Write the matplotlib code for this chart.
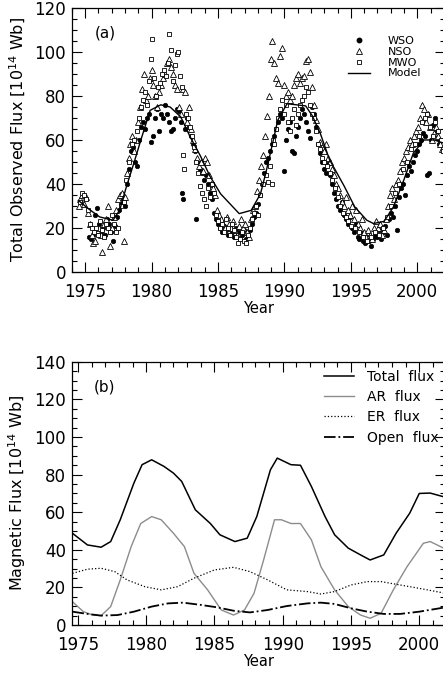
import matplotlib
matplotlib.use("Agg")
import matplotlib.pyplot as plt
from matplotlib.lines import Line2D
from matplotlib.ticker import MultipleLocator

plt.rcParams["font.family"] = ["DejaVu Sans"]

# ---- panel (a): observed total flux, 10^14 Wb ----
NSO_YEAR = [1974.55, 1974.65, 1974.75, 1974.9, 1975.05, 1975.2, 1975.35, 1975.5, 1975.6, 1975.75,
            1975.9, 1976.05, 1976.2, 1976.3, 1976.45, 1976.6, 1976.75, 1976.9, 1977.0, 1977.15,
            1977.3, 1977.45, 1977.6, 1977.75, 1977.9, 1978.0, 1978.15, 1978.3, 1978.4, 1978.55,
            1978.7, 1978.85, 1979.0, 1979.15, 1979.3, 1979.4, 1979.55, 1979.7, 1979.85, 1980.0,
            1980.15, 1980.3, 1980.45, 1980.6, 1980.75, 1980.9, 1981.05, 1981.2, 1981.35, 1981.5,
            1981.65, 1981.8, 1981.95, 1982.1, 1982.25, 1982.4, 1982.55, 1982.7, 1982.85, 1983.0,
            1983.15, 1983.3, 1983.45, 1983.6, 1983.75, 1983.9, 1984.05, 1984.2, 1984.35, 1984.5,
            1984.65, 1984.8, 1984.95, 1985.1, 1985.25, 1985.4, 1985.55, 1985.7, 1985.85, 1986.0,
            1986.15, 1986.3, 1986.45, 1986.6, 1986.75, 1986.9, 1987.05, 1987.2, 1987.35, 1987.5,
            1987.65, 1987.8, 1987.95, 1988.1, 1988.25, 1988.4, 1988.55, 1988.7, 1988.85, 1989.0,
            1989.1, 1989.25, 1989.4, 1989.55, 1989.7, 1989.85, 1990.0, 1990.15, 1990.3, 1990.45,
            1990.6, 1990.75, 1990.9, 1991.05, 1991.2, 1991.35, 1991.5, 1991.65, 1991.8, 1991.95,
            1992.1, 1992.25, 1992.4, 1992.55, 1992.7, 1992.85, 1993.0, 1993.15, 1993.3, 1993.45,
            1993.6, 1993.75, 1993.9, 1994.05, 1994.2, 1994.35, 1994.5, 1994.65, 1994.8, 1994.95,
            1995.1, 1995.25, 1995.4, 1995.55, 1995.7, 1995.85, 1996.0, 1996.15, 1996.3, 1996.45,
            1996.6, 1996.75, 1996.9, 1997.05, 1997.2, 1997.35, 1997.5, 1997.65, 1997.8, 1997.95,
            1998.1, 1998.25, 1998.4, 1998.55, 1998.7, 1998.85, 1999.0, 1999.15, 1999.3, 1999.45,
            1999.6, 1999.75, 1999.9, 2000.05, 2000.2, 2000.35, 2000.5, 2000.65, 2000.8, 2000.95,
            2001.1, 2001.25, 2001.4, 2001.55, 2001.7, 2001.85]
NSO_FLUX = [30, 33, 35, 31, 34, 27, 22, 17, 13, 14,
            19, 20, 17, 9, 22, 24, 30, 12, 20, 25,
            28, 33, 35, 36, 14, 34, 45, 52, 58, 62,
            55, 60, 68, 75, 83, 90, 78, 80, 88, 92,
            85, 80, 75, 82, 85, 88, 90, 95, 97, 93,
            90, 85, 83, 75, 72, 83, 82, 68, 75, 65,
            60, 56, 52, 48, 50, 46, 52, 50, 44, 40,
            38, 35, 28, 26, 24, 22, 20, 25, 22, 20,
            23, 19, 17, 21, 24, 20, 22, 18, 16, 24,
            28, 30, 37, 42, 48, 53, 62, 71, 80, 97,
            105, 95, 88, 86, 98, 102, 85, 80, 82, 78,
            80, 85, 88, 90, 86, 88, 89, 96, 97, 91,
            84, 76, 69, 65, 59, 57, 55, 58, 52, 50,
            47, 44, 40, 38, 35, 32, 30, 34, 28, 26,
            30, 24, 28, 22, 20, 24, 18, 16, 19, 17,
            15, 20, 23, 20, 22, 17, 19, 24, 30, 35,
            38, 33, 40, 42, 46, 50, 52, 55, 57, 60,
            58, 62, 64, 66, 70, 76, 74, 68, 72, 66,
            60, 63, 66, 62, 58, 56]

WSO_YEAR = [1975.3, 1975.45, 1975.6, 1975.75, 1975.9, 1976.05, 1976.2, 1976.35, 1976.5, 1976.65,
            1976.8, 1976.95, 1977.1, 1977.25, 1977.4, 1977.55, 1977.7, 1977.85, 1978.0, 1978.15,
            1978.3, 1978.45, 1978.6, 1978.75, 1978.9, 1979.05, 1979.2, 1979.35, 1979.5, 1979.65,
            1979.8, 1979.95, 1980.1, 1980.25, 1980.4, 1980.55, 1980.7, 1980.85, 1981.0, 1981.15,
            1981.3, 1981.45, 1981.6, 1981.75, 1981.9, 1982.05, 1982.2, 1982.3, 1982.35, 1982.5,
            1982.65, 1982.8, 1982.95, 1983.1, 1983.25, 1983.35, 1983.5, 1983.65, 1983.8, 1983.95,
            1984.1, 1984.25, 1984.4, 1984.55, 1984.7, 1984.85, 1985.0, 1985.15, 1985.3, 1985.45,
            1985.6, 1985.75, 1985.9, 1986.05, 1986.2, 1986.35, 1986.5, 1986.65, 1986.8, 1986.95,
            1987.1, 1987.25, 1987.4, 1987.55, 1987.7, 1987.85, 1988.0, 1988.15, 1988.3, 1988.45,
            1988.6, 1988.75, 1988.9, 1989.05, 1989.2, 1989.35, 1989.5, 1989.65, 1989.8, 1989.95,
            1990.1, 1990.25, 1990.4, 1990.55, 1990.7, 1990.85, 1991.0, 1991.15, 1991.3, 1991.45,
            1991.6, 1991.75, 1991.9, 1992.05, 1992.2, 1992.35, 1992.5, 1992.65, 1992.8, 1992.95,
            1993.1, 1993.25, 1993.4, 1993.55, 1993.7, 1993.85, 1994.0, 1994.15, 1994.3, 1994.45,
            1994.6, 1994.75, 1994.9, 1995.05, 1995.2, 1995.35, 1995.5, 1995.65, 1995.8, 1995.95,
            1996.1, 1996.25, 1996.4, 1996.55, 1996.7, 1996.85, 1997.0, 1997.15, 1997.3, 1997.45,
            1997.6, 1997.75, 1997.9, 1998.05, 1998.2, 1998.35, 1998.5, 1998.65, 1998.8, 1998.95,
            1999.1, 1999.25, 1999.4, 1999.55, 1999.7, 1999.85, 2000.0, 2000.15, 2000.3, 2000.45,
            2000.6, 2000.75, 2000.85, 2001.0, 2001.15, 2001.3, 2001.45, 2001.6, 2001.75, 2001.9]
WSO_FLUX = [16, 15, 17, 26, 29, 22, 18, 20, 17, 24,
            22, 18, 14, 21, 25, 28, 31, 33, 30, 40,
            47, 55, 57, 50, 48, 60, 66, 68, 65, 70,
            72, 59, 62, 70, 74, 64, 72, 70, 76, 72,
            68, 64, 65, 70, 74, 73, 68, 36, 33, 65,
            70, 66, 62, 58, 55, 24, 50, 47, 45, 42,
            44, 40, 36, 33, 27, 24, 22, 20, 18, 21,
            19, 17, 20, 18, 16, 20, 18, 15, 17, 19,
            15, 17, 19, 22, 25, 27, 31, 35, 40, 45,
            50, 52, 55, 58, 62, 65, 68, 72, 70, 46,
            60, 65, 68, 55, 54, 62, 66, 70, 74, 72,
            68, 64, 61, 75, 72, 66, 58, 54, 50, 47,
            45, 49, 44, 40, 36, 33, 30, 28, 32, 26,
            24, 22, 25, 20, 18, 22, 16, 15, 18, 14,
            13, 16, 14, 12, 15, 17, 16, 19, 15, 18,
            21, 17, 24, 27, 25, 30, 19, 34, 38, 40,
            35, 44, 48, 46, 50, 53, 55, 58, 60, 63,
            62, 44, 45, 60, 67, 70, 64, 58, 60, 56]

MWO_YEAR = [1974.6, 1974.75, 1974.9, 1975.05, 1975.2, 1975.35, 1975.5, 1975.65, 1975.8, 1975.95,
            1976.1, 1976.25, 1976.4, 1976.55, 1976.7, 1976.85, 1977.0, 1977.15, 1977.3, 1977.5,
            1977.7, 1977.9, 1978.1, 1978.3, 1978.5, 1978.7, 1978.9, 1979.05, 1979.2, 1979.35,
            1979.5, 1979.65, 1979.8, 1979.95, 1980.0, 1980.2, 1980.35, 1980.5, 1980.65, 1980.8,
            1980.95, 1981.1, 1981.25, 1981.35, 1981.45, 1981.6, 1981.75, 1981.9, 1982.0, 1982.15,
            1982.3, 1982.4, 1982.45, 1982.6, 1982.75, 1982.9, 1983.05, 1983.2, 1983.35, 1983.5,
            1983.65, 1983.8, 1983.95, 1984.1, 1984.25, 1984.4, 1984.55, 1984.7, 1984.85, 1985.0,
            1985.15, 1985.3, 1985.45, 1985.6, 1985.75, 1985.9, 1986.05, 1986.2, 1986.35, 1986.5,
            1986.65, 1986.8, 1986.95, 1987.1, 1987.25, 1987.4, 1987.55, 1987.7, 1987.85, 1988.0,
            1988.2, 1988.4, 1988.6, 1988.8, 1988.95, 1989.05, 1989.15, 1989.25, 1989.4, 1989.55,
            1989.7, 1989.85, 1990.0, 1990.15, 1990.3, 1990.45, 1990.6, 1990.75, 1990.9, 1991.05,
            1991.2, 1991.35, 1991.5, 1991.65, 1991.8, 1991.95, 1992.1, 1992.25, 1992.4, 1992.55,
            1992.7, 1992.85, 1993.0, 1993.2, 1993.4, 1993.6, 1993.8, 1994.0, 1994.2, 1994.4,
            1994.6, 1994.8, 1995.0, 1995.3, 1995.6, 1995.9, 1996.2, 1996.5, 1996.8, 1997.1,
            1997.4, 1997.7, 1998.0, 1998.3, 1998.6, 1998.9, 1999.2, 1999.5, 1999.8, 2000.1,
            2000.35, 2000.55, 2000.75, 2000.95, 2001.15, 2001.35, 2001.55, 2001.75, 2001.9]
MWO_FLUX = [32, 36, 35, 33, 28, 22, 20, 18, 20, 17,
            23, 19, 16, 22, 20, 18, 26, 22, 18, 20,
            30, 32, 42, 50, 58, 60, 64, 70, 75, 78,
            82, 76, 87, 97, 106, 88, 80, 84, 86, 90,
            92, 89, 95, 108, 101, 87, 94, 99, 100, 89,
            84, 53, 47, 72, 70, 66, 62, 57, 50, 45,
            39, 36, 33, 30, 38, 34, 40, 36, 26, 23,
            20, 22, 18, 24, 20, 17, 22, 19, 16, 13,
            15, 18, 14, 13, 17, 20, 24, 27, 30, 26,
            35, 40, 44, 41, 48, 40, 60, 58, 65, 70,
            74, 78, 72, 76, 68, 64, 70, 74, 67, 72,
            76, 78, 80, 84, 82, 76, 72, 70, 64, 58,
            56, 52, 50, 48, 45, 42, 38, 34, 30, 27,
            25, 23, 21, 20, 18, 16, 14, 16, 18, 17,
            20, 25, 30, 36, 40, 47, 50, 56, 58, 62,
            68, 70, 72, 66, 62, 68, 64, 60, 55]

MODEL_YEAR = [1974.5, 1975.3, 1976.1, 1977.1, 1977.6, 1978.1, 1978.7, 1979.2, 1979.9, 1980.7,
              1981.4, 1982.2, 1982.9, 1983.7, 1984.4, 1985.2, 1985.9, 1986.6, 1987.5, 1988.2,
              1988.6, 1989.0, 1989.5, 1990.2, 1990.9, 1991.6, 1992.1, 1992.7, 1993.4, 1994.5,
              1995.3, 1996.2, 1996.7, 1997.5, 1998.2, 1999.0, 1999.7, 2000.5, 2001.3, 2002.0]
MODEL_FLUX = [32.5, 28.5, 25.0, 23.5, 28.0, 38.5, 50.0, 60.0, 73.5, 76.0,
              75.0, 70.5, 61.5, 52.5, 43.5, 35.5, 31.0, 26.5, 28.0, 35.5,
              45.0, 55.5, 69.0, 76.5, 76.0, 75.5, 71.0, 63.0, 51.0, 39.0,
              29.5, 23.5, 22.0, 23.0, 29.5, 42.0, 54.0, 60.0, 60.0, 58.5]

# ---- panel (b): model flux components, 10^14 Wb ----
B_YEAR_TOTAL = [1974.6, 1975.7, 1976.7, 1977.4, 1978.1, 1979.1, 1979.7, 1980.4, 1981.3, 1982.0,
                1982.6, 1983.6, 1984.7, 1985.4, 1986.5, 1987.4, 1988.1, 1989.1, 1989.6, 1990.6,
                1991.3, 1992.1, 1993.1, 1993.8, 1994.8, 1995.7, 1996.4, 1997.4, 1998.3, 1999.3,
                2000.0, 2000.8, 2001.9]
TOTAL_FLUX = [48.8, 42.6, 41.4, 44.4, 56.0, 75.5, 85.3, 87.9, 84.4, 80.8,
              76.4, 61.3, 54.0, 48.0, 44.4, 46.2, 57.7, 82.6, 88.8, 85.3,
              85.0, 73.7, 57.7, 48.0, 40.9, 37.3, 34.6, 37.3, 48.8, 59.5,
              70.0, 70.2, 68.0]

B_YEAR_AR = [1974.6, 1975.4, 1976.1, 1976.7, 1977.4, 1978.1, 1978.9, 1979.6, 1980.4, 1981.1,
             1982.0, 1982.8, 1983.5, 1984.5, 1985.5, 1986.4, 1987.2, 1987.9, 1988.6, 1989.4,
             1989.9, 1990.6, 1991.3, 1992.1, 1992.8, 1993.8, 1994.8, 1995.7, 1996.4, 1997.2,
             1998.1, 1999.1, 2000.3, 2000.8, 2001.9]
AR_FLUX = [12.4, 7.1, 5.3, 5.0, 9.8, 24.0, 41.7, 54.0, 57.7, 56.0,
           48.8, 41.7, 27.5, 18.7, 8.0, 5.3, 8.0, 16.9, 34.6, 56.0,
           56.0, 54.0, 54.0, 45.3, 31.0, 18.7, 9.8, 5.3, 3.6, 6.2,
           18.7, 31.0, 43.5, 44.4, 40.5]

B_YEAR_ER = [1974.6, 1975.7, 1976.7, 1977.7, 1978.6, 1979.9, 1981.1, 1982.3, 1983.5, 1985.0,
             1986.4, 1987.6, 1988.9, 1990.3, 1991.8, 1992.8, 1993.8, 1995.0, 1996.2, 1997.2,
             1998.6, 2000.0, 2001.9]
ER_FLUX = [27.5, 29.7, 30.2, 28.4, 24.0, 20.4, 18.7, 20.4, 24.9, 29.3,
           30.7, 28.4, 24.0, 18.7, 17.8, 16.5, 17.8, 21.3, 23.1, 23.1,
           21.3, 19.5, 16.9]

B_YEAR_OPEN = [1974.6, 1975.7, 1976.7, 1977.9, 1979.1, 1980.4, 1981.6, 1982.7, 1984.0, 1985.2,
               1986.4, 1987.6, 1988.9, 1990.3, 1991.8, 1992.8, 1993.8, 1995.0, 1996.2, 1997.4,
               1998.6, 2000.0, 2001.9]
OPEN_FLUX = [7.1, 5.9, 5.0, 5.3, 7.1, 9.8, 11.5, 11.9, 10.7, 9.4,
             7.6, 6.7, 8.0, 10.1, 11.5, 11.9, 11.2, 8.9, 7.1, 5.9,
             5.9, 7.1, 9.4]

UNIT = r"[$10^{14}$ Wb]"


def style_axes(ax, ymajor, yminor):
    ax.xaxis.set_major_locator(MultipleLocator(5))
    ax.xaxis.set_minor_locator(MultipleLocator(1))
    ax.yaxis.set_major_locator(MultipleLocator(ymajor))
    ax.yaxis.set_minor_locator(MultipleLocator(yminor))
    ax.tick_params(which="both", direction="in", top=True, right=True,
                   labelsize=12, width=0.8)
    ax.tick_params(axis="x", pad=8)
    ax.tick_params(axis="y", pad=4)
    ax.tick_params(which="major", length=7)
    ax.tick_params(which="minor", length=3.5)
    for s in ax.spines.values():
        s.set_linewidth(0.9)


fig = plt.figure(figsize=(4.43, 6.73), dpi=100)
ax1 = fig.add_axes([0.162, 0.596, 0.843, 0.392])
ax2 = fig.add_axes([0.162, 0.0713, 0.843, 0.391])

# (a) observations and model
ax1.plot(WSO_YEAR, WSO_FLUX, "o", ms=3.2, mfc="black", mec="black", mew=0.5, ls="none")
ax1.plot(NSO_YEAR, NSO_FLUX, "^", ms=3.8, mfc="white", mec="black", mew=0.6, ls="none")
ax1.plot(MWO_YEAR, MWO_FLUX, "s", ms=3.3, mfc="white", mec="black", mew=0.6, ls="none")
ax1.plot(MODEL_YEAR, MODEL_FLUX, "-", color="black", lw=1.0)
ax1.set_xlim(1974.0, 2002.1)
ax1.set_ylim(0, 120)
style_axes(ax1, 20, 5)
ax1.set_xlabel("Year", fontsize=10.5, labelpad=0)
ax1.set_ylabel("Total Observed Flux " + UNIT, fontsize=11.5, labelpad=5)
ax1.text(0.062, 0.905, "(a)", transform=ax1.transAxes, fontsize=11, va="center")

handles_a = [
    Line2D([], [], marker="o", ls="none", ms=3.2, mfc="black", mec="black"),
    Line2D([], [], marker="^", ls="none", ms=3.8, mfc="white", mec="black", mew=0.6),
    Line2D([], [], marker="s", ls="none", ms=3.3, mfc="white", mec="black", mew=0.6),
    Line2D([], [], color="black", lw=1.0),
]
ax1.legend(handles_a, ["WSO", "NSO", "MWO", "Model"], loc="upper left",
           bbox_to_anchor=(0.74, 0.895), frameon=False, fontsize=8,
           handlelength=2.0, handletextpad=1.6, labelspacing=0.08,
           borderpad=0, borderaxespad=0)

# (b) flux components
ax2.plot(B_YEAR_TOTAL, TOTAL_FLUX, "-", color="black", lw=1.1, label="Total  flux")
ax2.plot(B_YEAR_AR, AR_FLUX, "-", color="#8c8c8c", lw=1.0, label="AR  flux")
ax2.plot(B_YEAR_ER, ER_FLUX, ":", color="black", lw=0.9, label="ER  flux")
ax2.plot(B_YEAR_OPEN, OPEN_FLUX, "-.", color="black", lw=1.3, label="Open  flux")
ax2.set_xlim(1974.55, 2001.9)
ax2.set_ylim(0, 140)
style_axes(ax2, 20, 5)
ax2.set_xlabel("Year", fontsize=10.5, labelpad=0)
ax2.set_ylabel("Magnetic Flux " + UNIT, fontsize=11.5, labelpad=5)
ax2.text(0.06, 0.905, "(b)", transform=ax2.transAxes, fontsize=11, va="center")
ax2.legend(loc="upper left", bbox_to_anchor=(0.675, 0.97), frameon=False, fontsize=10,
           handlelength=2.2, handletextpad=0.9, labelspacing=0.45,
           borderpad=0, borderaxespad=0)

fig.savefig("out.png", dpi=100)
